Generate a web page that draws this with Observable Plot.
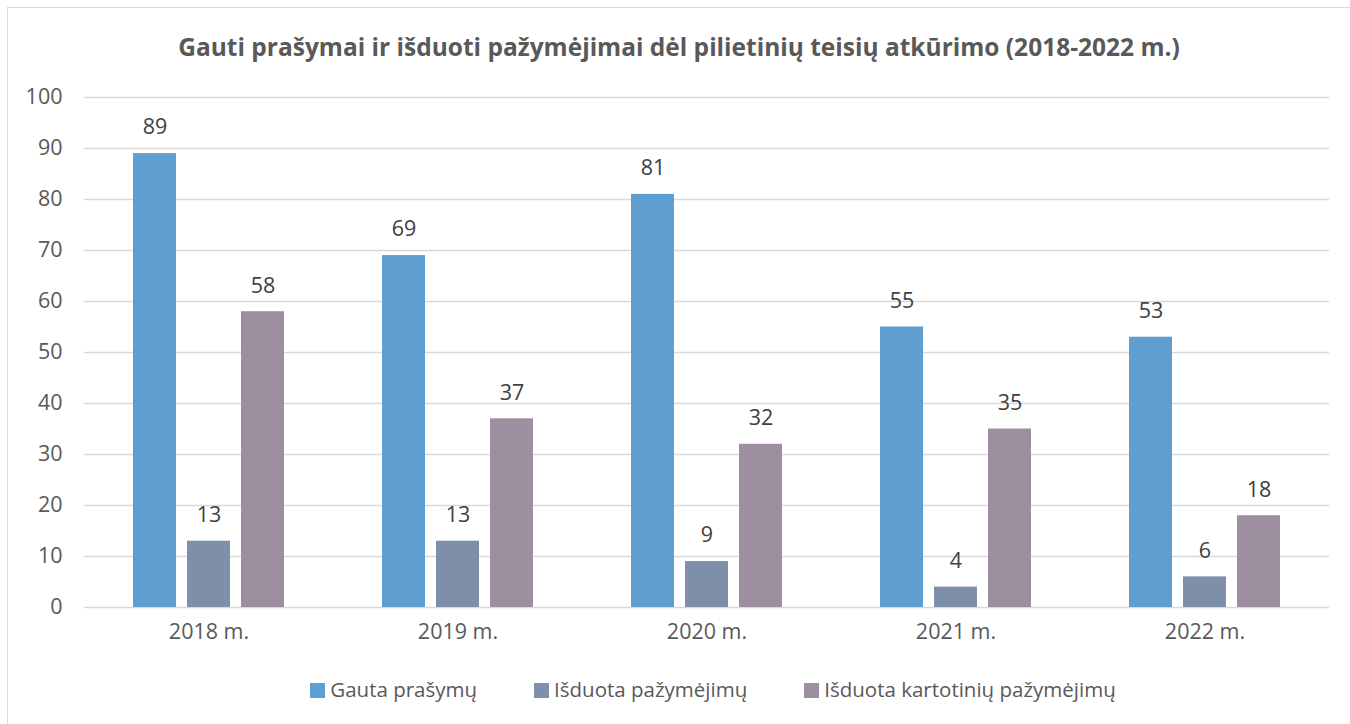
<!DOCTYPE html>
<html><head><meta charset="utf-8">
<script src="https://cdn.jsdelivr.net/npm/d3@7"></script>
<script src="https://cdn.jsdelivr.net/npm/@observablehq/plot@0.6"></script>
<style>
body{margin:0;background:#fff;font-family:"Open Sans",sans-serif;color:#595959;}
#frame{position:absolute;left:7px;top:7px;width:1345px;height:730px;border:1px solid #d9d9d9;box-sizing:border-box;}
#title{position:absolute;left:0;top:31px;width:1358px;text-align:center;font-weight:bold;font-size:24.5px;line-height:32px;color:#595959;}
#chart{position:absolute;left:0;top:80px;}
#legend{position:absolute;left:38px;top:675px;width:1350px;display:flex;justify-content:center;gap:57px;font-size:20.5px;line-height:28px;color:#595959;}
#legend span.sw{display:inline-block;width:15px;height:15px;margin-right:5px;vertical-align:-1px;}
</style></head>
<body>
<div id="frame"></div>
<div id="title">Gauti prašymai ir išduoti pažymėjimai dėl pilietinių teisių atkūrimo (2018-2022 m.)</div>
<div id="chart"></div>
<div id="legend"></div>
<script>
const years = ["2018 m.", "2019 m.", "2020 m.", "2021 m.", "2022 m."];
const series = ["Gauta prašymų", "Išduota pažymėjimų", "Išduota kartotinių pažymėjimų"];
const colors = ["#5f9ed1", "#7f8faa", "#9e8fa0"];
const gauta = [89, 69, 81, 55, 53];
const isduota = [13, 13, 9, 4, 6];
const kartotiniu = [58, 37, 32, 35, 18];
const yTicks = [0, 10, 20, 30, 40, 50, 60, 70, 80, 90, 100];

const values = [gauta, isduota, kartotiniu];
const data = [];
years.forEach((y, i) => series.forEach((s, j) => data.push({year: y, series: s, value: values[j][i]})));

const plot = Plot.plot({
  width: 1350,
  height: 580,
  marginLeft: 83,
  marginRight: 20,
  marginTop: 17,
  marginBottom: 53,
  style: {fontFamily: "'Open Sans', sans-serif", fontSize: "21.5px", color: "#595959", background: "transparent"},
  fx: {domain: years, padding: 0, label: null, tickSize: 0, tickPadding: 16},
  x: {domain: series, paddingInner: 0.2, paddingOuter: 0.867, axis: null},
  y: {domain: [0, 100], ticks: yTicks, label: null, tickSize: 0, tickPadding: 22},
  color: {domain: series, range: colors},
  marks: [
    Plot.ruleY(yTicks, {stroke: "#d9d9d9", strokeWidth: 1.5}),
    Plot.barY(data, {fx: "year", x: "series", y: "value", fill: "series"}),
    Plot.text(data, {fx: "year", x: "series", y: "value", text: d => String(d.value), dy: -26, fill: "#404040", fontSize: 21.5})
  ]
});
document.getElementById("chart").appendChild(plot);

const lg = document.getElementById("legend");
series.forEach((s, i) => {
  const item = document.createElement("div");
  item.innerHTML = `<span class="sw" style="background:${colors[i]}"></span>${s}`;
  lg.appendChild(item);
});
</script>
</body></html>
